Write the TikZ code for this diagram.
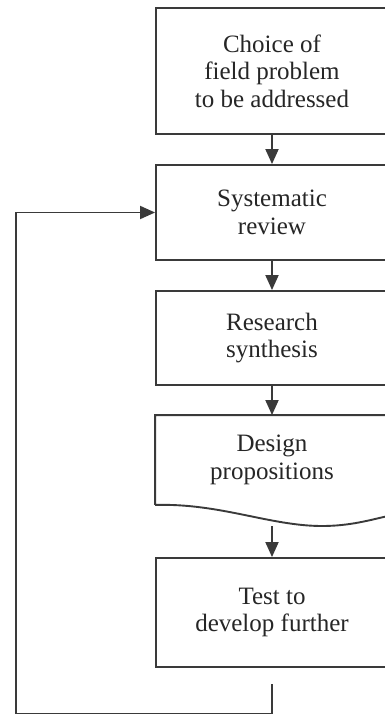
\documentclass[tikz,border=0pt]{standalone}
\usepackage{fontspec}
\setmainfont{Liberation Serif}
\usetikzlibrary{arrows.meta}
\definecolor{ln}{HTML}{3A3A3A}
\definecolor{tx}{HTML}{262626}
\begin{document}
\begin{tikzpicture}[x=1pt,y=-1pt,
  ln/.style={draw=ln,line width=1.9pt},
  arr/.style={ln,-{Triangle[length=15pt,width=13pt]}},
  boxst/.style={ln,fill=white,rectangle,minimum width=232pt,inner sep=0pt,
    align=center,text=tx,font=\fontsize{25}{27.5}\selectfont},
  docst/.style={boxst,draw=none}]
\useasboundingbox (0,0) rectangle (385,715);
\node[boxst,minimum height=126pt] (s1) at (272,71) {Choice of\\field problem\\to be addressed};
\node[boxst,minimum height=95pt] (s2) at (272,212.5) {Systematic\\review};
\node[boxst,minimum height=94pt] (s3) at (272,338) {Research\\synthesis};
\node[docst,minimum height=88pt] (s4) at (272,460) {Design\\propositions};
\node[boxst,minimum height=109pt] (s5) at (272,612.5) {Test to\\develop further};
% document shape
\coordinate (wr) at (388,516);
\coordinate (wm) at (322,526);
\draw[ln] (s4.south west) -- (s4.north west) -- (s4.north east) -- (wr)
  .. controls (370,520) and (350,526) .. (wm)
  .. controls (270,526) and (220,503) .. (s4.south west);
% arrows
\draw[arr] (s1.south) -- (s2.north);
\draw[arr] (s2.south) -- (s3.north);
\draw[arr] (s3.south) -- (s4.north);
\coordinate (w) at (272,526);
\draw[arr] (w) -- (s5.north);
% feedback loop
\coordinate (fb) at (272,684);
\coordinate (c1) at (16,713.5);
\draw[arr] (fb) -- (fb |- c1) -- (c1) |- (s2.west);
\end{tikzpicture}
\end{document}
